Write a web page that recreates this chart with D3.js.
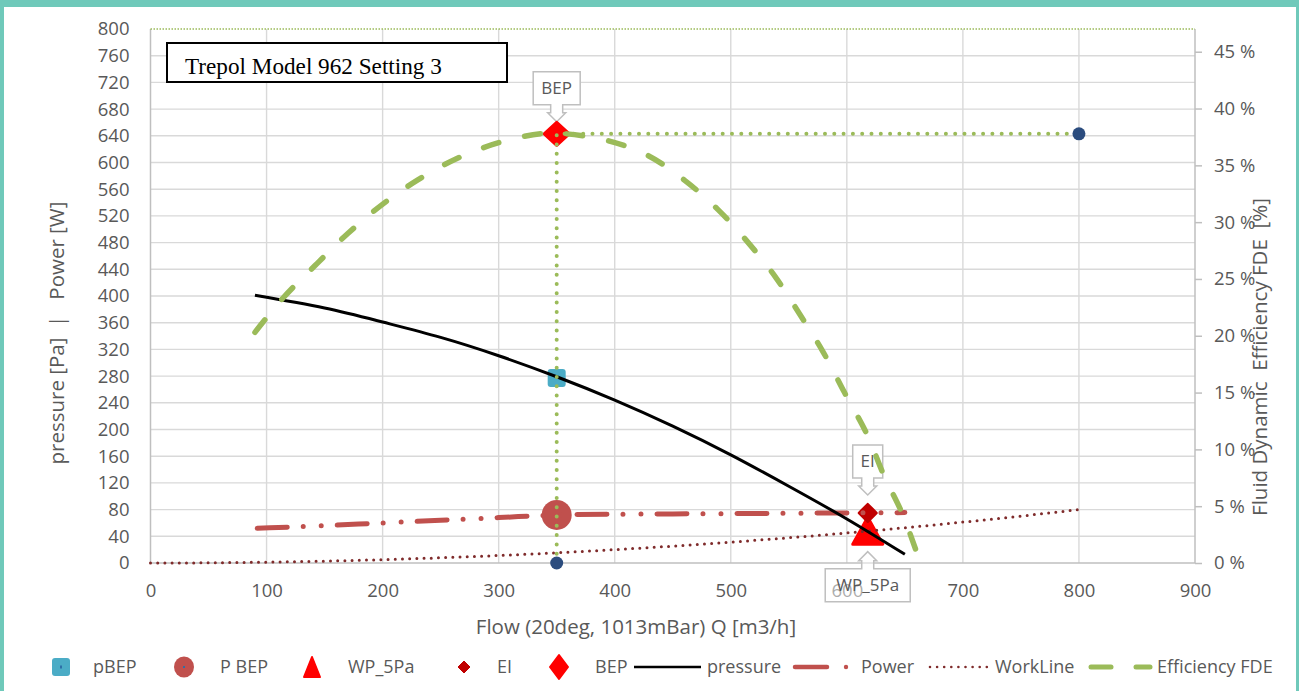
<!DOCTYPE html>
<html><head><meta charset="utf-8">
<script src="https://cdn.jsdelivr.net/npm/d3@7"></script>
<style>
html,body{margin:0;padding:0;background:#fff;}
</style></head>
<body>
<svg id="chart" width="1299" height="691"></svg>
<script>
// ---------- data ----------
const xTickLabels = [0,100,200,300,400,500,600,700,800,900];
const yLeftTickLabels = [0,40,80,120,160,200,240,280,320,360,400,440,480,520,560,600,640,680,720,760,800];
const yRightTickLabels = [0,0.05,0.10,0.15,0.20,0.25,0.30,0.35,0.40,0.45];

const pressureQ = [90,150,200,250,300,350,400,450,500,550,600,650];
const pressureP = [401,382,361,338,310.5,279,244,205,162,115,66,13];

const powerQ = [92,150,200,250,300,350,400,450,500,550,600,650];
const powerW = [52,56,60,64,68,72,73,73.5,74,74.5,75,75.5];

const workQ = [0,50,100,150,200,250,300,350,400,450,500,550,600,650,700,750,800];
const workP = [0,0.3,1.3,2.8,5,7.8,11.3,15.3,20,25.3,31.3,37.8,45,52.8,61.3,70.3,80];

const effQ = [90,114,142,170,199,230,264,300,337,355,393,428,460,489,515,539,560,580,598,617,632,648,661];
const effV = [0.203,0.233,0.262,0.290,0.315,0.337,0.356,0.370,0.378,0.378,0.372,0.359,0.337,0.311,0.282,0.251,0.218,0.185,0.150,0.114,0.077,0.043,0.007];

const bepLineQ = [350,350,800];
const bepLineP = [0,643,643];

const pBEP = {q:350, p:277};
const PBEP = {q:350, p:72};
const WP5Pa = {q:618, p:47};
const EI = {q:618, p:75};
const BEP = {q:350, p:643};

const titleText = "Trepol Model 962 Setting 3";

// ---------- setup ----------
const FONT = "'Open Sans',sans-serif";
const svg = d3.select("#chart");
const W = 1299, H = 691;
const teal = "#6FC9BA";
const grid = "#D9D9D9", axisC = "#BFBFBF", txt = "#595959";
const green = "#9BBB59", red = "#FF0000", brick = "#C0504D", darkred = "#C00000", wine = "#7F2B2B", navy = "#2B4C7E", cyan = "#4BACC6";

svg.append("rect").attr("x",0).attr("y",0).attr("width",W).attr("height",H).attr("fill",teal);
svg.append("rect").attr("x",4).attr("y",7).attr("width",W-7).attr("height",H).attr("fill","#fff");

const x = d3.scaleLinear().domain([0,900]).range([150.5,1195]);
const yL = d3.scaleLinear().domain([0,800]).range([563,29]);
const yR = d3.scaleLinear().domain([0,0.47]).range([563,29]);

// gridlines
svg.append("g").selectAll("line").data(yLeftTickLabels.filter(d=>d>0 && d<800)).join("line")
  .attr("x1",x(0)).attr("x2",x(900)).attr("y1",d=>yL(d)).attr("y2",d=>yL(d))
  .attr("stroke",grid).attr("stroke-width",1.4);
svg.append("g").selectAll("line").data(xTickLabels.filter(d=>d>0 && d<900)).join("line")
  .attr("x1",d=>x(d)).attr("x2",d=>x(d)).attr("y1",yL(0)).attr("y2",yL(800))
  .attr("stroke",grid).attr("stroke-width",1.4);

// axes lines
svg.append("line").attr("x1",x(0)).attr("x2",x(0)).attr("y1",yL(0)).attr("y2",yL(800)).attr("stroke",axisC).attr("stroke-width",1.5);
svg.append("line").attr("x1",x(900)).attr("x2",x(900)).attr("y1",yL(0)).attr("y2",yL(800)).attr("stroke",axisC).attr("stroke-width",1.5);
svg.append("line").attr("x1",x(0)).attr("x2",x(900)).attr("y1",yL(0)).attr("y2",yL(0)).attr("stroke",axisC).attr("stroke-width",1.5);
svg.append("line").attr("x1",x(0)).attr("x2",x(900)).attr("y1",yL(800)).attr("y2",yL(800))
  .attr("stroke",green).attr("stroke-width",1.5).attr("stroke-dasharray","1.5,1.5");

// axes via d3
const axL = d3.axisLeft(yL).tickValues(yLeftTickLabels).tickSize(0).tickPadding(21);
const gL = svg.append("g").attr("transform",`translate(${x(0)},0)`).call(axL);
const axB = d3.axisBottom(x).tickValues(xTickLabels).tickSize(0).tickPadding(21);
const gB = svg.append("g").attr("transform",`translate(0,${yL(0)})`).call(axB);
const axR = d3.axisRight(yR).tickValues(yRightTickLabels).tickSize(7).tickPadding(12).tickFormat(d=>Math.round(d*100)+" %");
const gR = svg.append("g").attr("transform",`translate(${x(900)},0)`).call(axR);
[gL,gB,gR].forEach(g=>{
  g.select(".domain").remove();
  g.selectAll("text").attr("fill",txt).attr("font-size",18.5).attr("font-family",FONT);
  g.selectAll(".tick line").attr("stroke",axisC).attr("stroke-width",1.5);
});

// axis titles
svg.append("text").attr("transform","translate(64,333) rotate(-90)").attr("text-anchor","middle")
  .attr("font-family",FONT).attr("fill",txt).attr("font-size",20.5).style("white-space","pre").text("pressure [Pa]  |   Power [W]");
svg.append("text").attr("transform","translate(1267,357) rotate(-90)").attr("text-anchor","middle")
  .attr("font-family",FONT).attr("fill",txt).attr("font-size",20.5).style("white-space","pre").text("Fluid Dynamic  Efficiency FDE  [%]");
svg.append("text").attr("x",636).attr("y",634).attr("text-anchor","middle")
  .attr("font-family",FONT).attr("fill",txt).attr("font-size",20.5).text("Flow (20deg, 1013mBar) Q [m3/h]");

// title box
svg.append("rect").attr("x",167).attr("y",43).attr("width",340).attr("height",39)
  .attr("fill","#fff").attr("stroke","#000").attr("stroke-width",2);
svg.append("text").attr("x",185).attr("y",74).attr("font-family","'Liberation Serif','Times New Roman',serif")
  .attr("font-size",23.2).attr("fill","#000").text(titleText);

// callouts
function callout(px, py, above, label, w, off){
  const tip = above ? py-off : py+off;
  const s = above ? -1 : 1;
  const headLen = 9, stemLen = 8, stemHW = 6, headHW = 9, bh = 33;
  const base = tip + s*(headLen+stemLen);
  const neck = tip + s*headLen;
  const far = base + s*bh;
  const l = px - w/2, r = px + w/2;
  const p = d3.path();
  p.moveTo(l, base); p.lineTo(px-stemHW, base); p.lineTo(px-stemHW, neck); p.lineTo(px-headHW, neck);
  p.lineTo(px, tip); p.lineTo(px+headHW, neck); p.lineTo(px+stemHW, neck); p.lineTo(px+stemHW, base);
  p.lineTo(r, base); p.lineTo(r, far); p.lineTo(l, far); p.closePath();
  const g = svg.append("g");
  g.append("path").attr("d",p.toString()).attr("fill","#fff").attr("fill-opacity",above?1:0.5).attr("stroke","#BFBFBF").attr("stroke-width",1.5);
  g.append("text").attr("x",px).attr("y",(base+far)/2).attr("dy","0.35em").attr("text-anchor","middle")
    .attr("font-family",FONT).attr("fill",txt).attr("font-size",17).text(label);
}
callout(x(BEP.q), yL(BEP.p), true, "BEP", 47, 12);
callout(x(EI.q), yL(EI.p), true, "EI", 30, 18);
callout(x(WP5Pa.q), yL(WP5Pa.p), false, "WP_5Pa", 85, 20);

// markers
function diamond(cx, cy, hw, hh, color){
  svg.append("path").attr("d",`M${cx},${cy-hh}L${cx+hw},${cy}L${cx},${cy+hh}L${cx-hw},${cy}Z`)
    .attr("fill",color).attr("stroke",color).attr("stroke-width",3).attr("stroke-linejoin","round");
}
function triangle(cx, cy, hw, hh, color){
  svg.append("path").attr("d",`M${cx},${cy-hh}L${cx+hw},${cy+hh}L${cx-hw},${cy+hh}Z`)
    .attr("fill",color).attr("stroke",color).attr("stroke-width",3).attr("stroke-linejoin","round");
}
svg.append("rect").attr("x",x(pBEP.q)-9).attr("y",yL(pBEP.p)-9).attr("width",18).attr("height",18).attr("rx",3)
  .attr("fill",cyan);
svg.append("circle").attr("cx",x(PBEP.q)).attr("cy",yL(PBEP.p)).attr("r",15).attr("fill",brick);
triangle(x(WP5Pa.q), yL(WP5Pa.p)-1, 15, 13.5, red);
diamond(x(EI.q), yL(EI.p), 8.5, 8.5, darkred);
diamond(x(BEP.q), yL(BEP.p), 12.5, 11.5, red);

// lines
const lineL = (qs, vs, c) => d3.line().x((d,i)=>x(qs[i])).y((d,i)=>yL(vs[i])).curve(c || d3.curveMonotoneX)(qs);
const lineR = (qs, vs) => d3.line().x((d,i)=>x(qs[i])).y((d,i)=>yR(vs[i])).curve(d3.curveCatmullRom.alpha(0.5))(qs);

svg.append("path").attr("d",lineL(workQ,workP)).attr("fill","none").attr("stroke",wine)
  .attr("stroke-width",3).attr("stroke-linecap","round").attr("stroke-dasharray","0,7.2");
svg.append("path").attr("d",lineL(powerQ,powerW)).attr("fill","none").attr("stroke",brick)
  .attr("stroke-width",5).attr("stroke-linecap","round").attr("stroke-dasharray","30,16,0,18,0,16");
svg.append("path").attr("d",lineL(pressureQ,pressureP,d3.curveNatural)).attr("fill","none").attr("stroke","#000")
  .attr("stroke-width",3);

// BEP guide lines
svg.append("path").attr("d",d3.line().x((d,i)=>x(bepLineQ[i])).y((d,i)=>yL(bepLineP[i]))(bepLineQ))
  .attr("fill","none").attr("stroke",green).attr("stroke-width",4).attr("stroke-linecap","round").attr("stroke-dasharray","0,9.3");
svg.append("circle").attr("cx",x(bepLineQ[0])).attr("cy",yL(bepLineP[0])).attr("r",6.5).attr("fill",navy);
svg.append("circle").attr("cx",x(bepLineQ[2])).attr("cy",yL(bepLineP[2])).attr("r",6.5).attr("fill",navy);

svg.append("path").attr("d",lineR(effQ,effV)).attr("fill","none").attr("stroke",green)
  .attr("stroke-width",5.5).attr("stroke-linecap","round").attr("stroke-dasharray","16,26.5");

// legend
const ly = 667;
const lg = svg.append("g");
const ltext = (xp, t) => lg.append("text").attr("x",xp).attr("y",ly).attr("dy","0.35em").attr("font-family",FONT).attr("fill",txt).attr("font-size",18).text(t);
lg.append("rect").attr("x",52).attr("y",ly-9).attr("width",18).attr("height",18).attr("rx",3).attr("fill",cyan);
lg.append("rect").attr("x",60).attr("y",ly-1.5).attr("width",2).attr("height",3).attr("fill","#2E6FA7");
ltext(93,"pBEP");
lg.append("ellipse").attr("cx",184).attr("cy",ly).attr("rx",10).attr("ry",10.5).attr("fill",brick);
lg.append("rect").attr("x",183).attr("y",ly-1).attr("width",2).attr("height",2).attr("fill","#2E6FA7");
ltext(220,"P BEP");
lg.append("path").attr("d",`M312,${ly-10}L320,${ly+10}L304,${ly+10}Z`).attr("fill",red).attr("stroke",red).attr("stroke-width",2).attr("stroke-linejoin","round");
ltext(348,"WP_5Pa");
lg.append("path").attr("d",`M464,${ly-6}L470,${ly}L464,${ly+6}L458,${ly}Z`).attr("fill",darkred).attr("stroke",darkred).attr("stroke-width",1);
ltext(497,"EI");
lg.append("path").attr("d",`M559,${ly-12}L568,${ly}L559,${ly+12}L550,${ly}Z`).attr("fill",red).attr("stroke",red).attr("stroke-width",2).attr("stroke-linejoin","round");
ltext(595,"BEP");
lg.append("line").attr("x1",634).attr("x2",701).attr("y1",ly).attr("y2",ly).attr("stroke","#000").attr("stroke-width",2.5);
ltext(707,"pressure");
lg.append("line").attr("x1",795).attr("x2",827).attr("y1",ly).attr("y2",ly).attr("stroke",brick).attr("stroke-width",4.5).attr("stroke-linecap","round");
lg.append("circle").attr("cx",846).attr("cy",ly).attr("r",2.2).attr("fill",brick);
ltext(861,"Power");
lg.append("line").attr("x1",930).attr("x2",987).attr("y1",ly).attr("y2",ly).attr("stroke",wine).attr("stroke-width",2.6)
  .attr("stroke-linecap","round").attr("stroke-dasharray","0,7.1");
ltext(995,"WorkLine");
lg.append("line").attr("x1",1091).attr("x2",1111).attr("y1",ly).attr("y2",ly).attr("stroke",green).attr("stroke-width",5).attr("stroke-linecap","round");
lg.append("line").attr("x1",1136).attr("x2",1150).attr("y1",ly).attr("y2",ly).attr("stroke",green).attr("stroke-width",5).attr("stroke-linecap","round");
ltext(1157,"Efficiency FDE");
</script>
</body></html>
